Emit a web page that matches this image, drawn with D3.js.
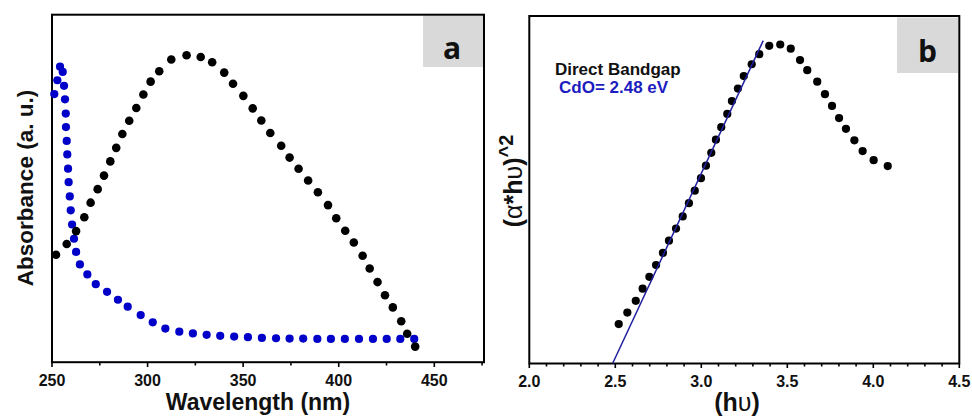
<!DOCTYPE html>
<html>
<head>
<meta charset="utf-8">
<script src="https://cdn.jsdelivr.net/npm/d3@7"></script>
<style>
  html, body { margin: 0; padding: 0; background: #fff; }
  svg { display: block; }
  text { font-family: "Liberation Sans", Arial, sans-serif; font-weight: bold; }
</style>
</head>
<body>
<svg id="chart" width="972" height="418"></svg>
<script>
// ---------- Panel a data (Absorbance vs wavelength) ----------
const blackWavelength = [252.1,257.7,262.6,266.9,270.2,273.9,277.2,280.5,283.6,286.8,290.4,294.1,297.8,301.6,306.1,312.4,320.4,327.8,333.8,340.1,344.7,350.1,355.0,359.5,364.2,369.9,374.3,379.0,384.0,389.1,394.4,398.7,403.4,407.9,412.5,416.2,420.3,424.2,428.3,432.7,435.8,440.0];
const blackAbsorbance = [0.308,0.339,0.376,0.416,0.458,0.497,0.536,0.577,0.616,0.656,0.694,0.731,0.770,0.807,0.837,0.871,0.883,0.878,0.863,0.833,0.801,0.766,0.730,0.695,0.659,0.622,0.588,0.556,0.522,0.488,0.451,0.413,0.377,0.343,0.305,0.268,0.229,0.191,0.156,0.116,0.080,0.043];
const blueWavelength = [251.2,252.8,254.2,255.6,256.3,256.8,257.2,257.3,257.7,258.0,258.4,258.7,259.3,259.8,260.5,261.5,262.6,264.6,268.5,272.9,278.8,284.5,289.6,296.4,302.7,309.3,316.6,323.7,330.9,338.0,345.3,352.5,359.8,367.2,374.3,381.4,388.8,395.9,403.2,410.6,417.9,425.1,432.2,439.5];
const blueAbsorbance = [0.771,0.811,0.850,0.835,0.795,0.756,0.715,0.676,0.636,0.597,0.556,0.517,0.476,0.436,0.395,0.354,0.316,0.280,0.251,0.223,0.201,0.178,0.158,0.134,0.113,0.095,0.086,0.081,0.077,0.074,0.072,0.070,0.068,0.067,0.066,0.066,0.065,0.065,0.065,0.065,0.065,0.065,0.065,0.065];
const aMajorTicks = [250,300,350,400,450];
const aMinorTicks = [275,325,375,425,475];

// ---------- Panel b data (Tauc plot) ----------
const tauHv = [2.520,2.570,2.619,2.659,2.698,2.737,2.777,2.812,2.853,2.892,2.928,2.962,2.998,3.027,3.058,3.085,3.116,3.151,3.178,3.213,3.247,3.293,3.337,3.395,3.459,3.520,3.574,3.616,3.674,3.719,3.760,3.801,3.841,3.890,3.938,4.002,4.084];
const tauY = [0.113,0.146,0.180,0.215,0.249,0.283,0.318,0.353,0.388,0.423,0.461,0.497,0.533,0.569,0.606,0.644,0.680,0.718,0.755,0.791,0.827,0.861,0.890,0.914,0.918,0.906,0.873,0.844,0.811,0.775,0.741,0.706,0.675,0.642,0.611,0.585,0.568];
const fitHv = [2.485, 3.360];
const fitY = [0.0, 0.929];
const bMajorTicks = [2.0,2.5,3.0,3.5,4.0,4.5];
const bMinorTicks = [2.1,2.2,2.3,2.4,2.6,2.7,2.8,2.9,3.1,3.2,3.3,3.4,3.6,3.7,3.8,3.9,4.1,4.2,4.3,4.4];

const svg = d3.select("#chart");

// ---------------- Panel a ----------------
const ax = d3.scaleLinear().domain([250, 476]).range([52, 484]);
const ay = d3.scaleLinear().domain([0, 1]).range([361.5, 14.7]);

const ga = svg.append("g");
ga.append("rect").attr("x", 423).attr("y", 15.5).attr("width", 60).attr("height", 51.5).attr("fill", "#d9d9d9");
ga.append("text").attr("x", 452).attr("y", 59).attr("text-anchor", "middle")
  .style("font-family", "'Open Sans', sans-serif").style("font-size", "30px").attr("fill", "#111").text("a");

ga.selectAll(".amin").data(aMinorTicks).join("line")
  .attr("x1", d => ax(d)).attr("x2", d => ax(d)).attr("y1", 362).attr("y2", 365.5)
  .attr("stroke", "#000").attr("stroke-width", 1.6);
ga.selectAll(".amaj").data(aMajorTicks).join("line")
  .attr("x1", d => ax(d)).attr("x2", d => ax(d)).attr("y1", 362).attr("y2", 367)
  .attr("stroke", "#000").attr("stroke-width", 1.6);
ga.selectAll(".alab").data(aMajorTicks).join("text")
  .attr("x", d => ax(d)).attr("y", 386).attr("text-anchor", "middle")
  .style("font-size", "16px").attr("fill", "#111").text(d => d);

ga.append("rect").attr("x", 52).attr("y", 14.7).attr("width", 432).attr("height", 347.5)
  .attr("fill", "none").attr("stroke", "#000").attr("stroke-width", 2);

ga.selectAll(".blue").data(blueWavelength.map((w,i)=>[w, blueAbsorbance[i]])).join("circle")
  .attr("cx", d => ax(d[0])).attr("cy", d => ay(d[1])).attr("r", 4.1).attr("fill", "#0000c8");
ga.selectAll(".black").data(blackWavelength.map((w,i)=>[w, blackAbsorbance[i]])).join("circle")
  .attr("cx", d => ax(d[0])).attr("cy", d => ay(d[1])).attr("r", 4.3).attr("fill", "#000");

ga.append("text").attr("x", 258).attr("y", 410).attr("text-anchor", "middle")
  .style("font-size", "23px").attr("fill", "#111").text("Wavelength (nm)");
ga.append("text").attr("transform", "translate(33,188) rotate(-90)").attr("text-anchor", "middle")
  .style("font-size", "22.5px").attr("fill", "#111").text("Absorbance (a. u.)");

// ---------------- Panel b ----------------
const bx = d3.scaleLinear().domain([2.0, 4.5]).range([529.3, 959.3]);
const by = d3.scaleLinear().domain([0, 1]).range([363.3, 16]);

const gb = svg.append("g");
gb.append("rect").attr("x", 897).attr("y", 17.5).attr("width", 61).attr("height", 55.5).attr("fill", "#d9d9d9");
gb.append("text").attr("x", 927.5).attr("y", 62).attr("text-anchor", "middle")
  .style("font-family", "'Open Sans', sans-serif").style("font-size", "30px").attr("fill", "#111").text("b");

gb.selectAll(".bmin").data(bMinorTicks).join("line")
  .attr("x1", d => bx(d)).attr("x2", d => bx(d)).attr("y1", 363.5).attr("y2", 366.5)
  .attr("stroke", "#000").attr("stroke-width", 1.6);
gb.selectAll(".bmaj").data(bMajorTicks).join("line")
  .attr("x1", d => bx(d)).attr("x2", d => bx(d)).attr("y1", 363.5).attr("y2", 368)
  .attr("stroke", "#000").attr("stroke-width", 1.6);
gb.selectAll(".blab").data(bMajorTicks).join("text")
  .attr("x", d => bx(d)).attr("y", 387).attr("text-anchor", "middle")
  .style("font-size", "16px").attr("fill", "#111").text(d => d3.format(".1f")(d));

gb.append("rect").attr("x", 529.3).attr("y", 16).attr("width", 430).attr("height", 347.5)
  .attr("fill", "none").attr("stroke", "#000").attr("stroke-width", 2);

gb.selectAll(".tauc").data(tauHv.map((h,i)=>[h, tauY[i]])).join("circle")
  .attr("cx", d => bx(d[0])).attr("cy", d => by(d[1])).attr("r", 4.1).attr("fill", "#000");

gb.append("path").datum(fitHv.map((h,i)=>[h, fitY[i]]))
  .attr("d", d3.line().x(d => bx(d[0])).y(d => by(d[1])))
  .attr("stroke", "#1f1fa0").attr("stroke-width", 1.5).attr("fill", "none");

gb.append("text").attr("x", 555).attr("y", 74.5).style("font-size", "17px").attr("fill", "#111").text("Direct Bandgap");
gb.append("text").attr("x", 559).attr("y", 93).style("font-size", "17px").attr("fill", "#1c1cc0").text("CdO= 2.48 eV");

gb.append("text").attr("x", 737).attr("y", 411).attr("text-anchor", "middle")
  .style("font-size", "25px").attr("fill", "#111")
  .html('(h<tspan style="font-weight:normal">υ</tspan>)');

const yl = gb.append("text").attr("transform", "translate(522,181) rotate(-90)").attr("text-anchor", "middle")
  .style("font-size", "25px").attr("fill", "#111");
yl.append("tspan").text("(");
yl.append("tspan").style("font-weight", "normal").text("α");
yl.append("tspan").text("*h");
yl.append("tspan").style("font-weight", "normal").text("υ");
yl.append("tspan").text(")");
yl.append("tspan").attr("dy", -9).style("font-size", "20px").text("^2");
</script>
</body>
</html>
